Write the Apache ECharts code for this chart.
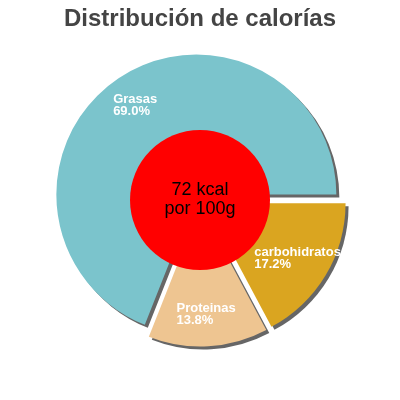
<!DOCTYPE html>
<html><head><meta charset="utf-8">
<script src="https://cdn.jsdelivr.net/npm/echarts@6/dist/echarts.min.js"></script>
<style>html,body{margin:0;padding:0;background:#fff}#c{width:400px;height:400px}</style>
</head><body><div id="c"></div>
<script>
const titleText = "Distribución de calorías";
const categories = ["Grasas", "Proteinas", "carbohidratos"];
const percentages = [69.0, 13.8, 17.2];
const colors = ["#7bc4cc", "#eec591", "#daa520"];
const centerText = ["72 kcal", "por 100g"];
const labelWidths = [45, 60, 88];

const FONT = 'Liberation Sans, Arial, sans-serif';
const chart = echarts.init(document.getElementById('c'), null, {renderer: 'canvas'});

const shapeData = categories.map((name, i) => ({
  name: name, value: percentages[i], selected: true,
  itemStyle: {color: colors[i]}
}));
const labelData = categories.map((name, i) => ({
  name: name, value: percentages[i], selected: true,
  label: {
    formatter: '{t|' + name + '}\n{t|' + percentages[i].toFixed(1) + '%}',
    rich: {t: {width: labelWidths[i], align: 'left', color: '#fff', fontSize: 13,
      fontWeight: 'bold', fontFamily: FONT, lineHeight: 12}}
  }
}));

const common = {
  type: 'pie', center: [200, 200], startAngle: 0, clockwise: false,
  selectedMode: 'multiple', selectedOffset: 6.5, silent: true,
  labelLine: {show: false}, emphasis: {disabled: true}
};

chart.setOption({
  animation: false,
  title: {
    text: titleText, left: 'center', top: 2,
    textStyle: {fontFamily: FONT, fontSize: 24, fontWeight: 'bold', color: '#444'}
  },
  series: [
    Object.assign({}, common, {
      radius: [0, 140],
      z: 2,
      itemStyle: {shadowColor: '#666', shadowBlur: 0, shadowOffsetX: 3, shadowOffsetY: 3},
      label: {show: false},
      data: shapeData
    }),
    Object.assign({}, common, {
      type: 'pie',
      center: [200, 200],
      radius: [0, 70],
      startAngle: 90,
      selectedMode: false,
      z: 5,
      itemStyle: {color: '#ff0000'},
      label: {
        show: true, position: 'center',
        formatter: centerText.join('\n'),
        color: '#000', fontSize: 18, lineHeight: 19, fontFamily: FONT
      },
      data: [{value: 1, name: 'total'}]
    }),
    Object.assign({}, common, {
      radius: [70, 140],
      z: 8,
      itemStyle: {color: 'rgba(0,0,0,0)'},
      label: {show: true, position: 'inside'},
      data: labelData
    })
  ]
});
</script></body></html>
